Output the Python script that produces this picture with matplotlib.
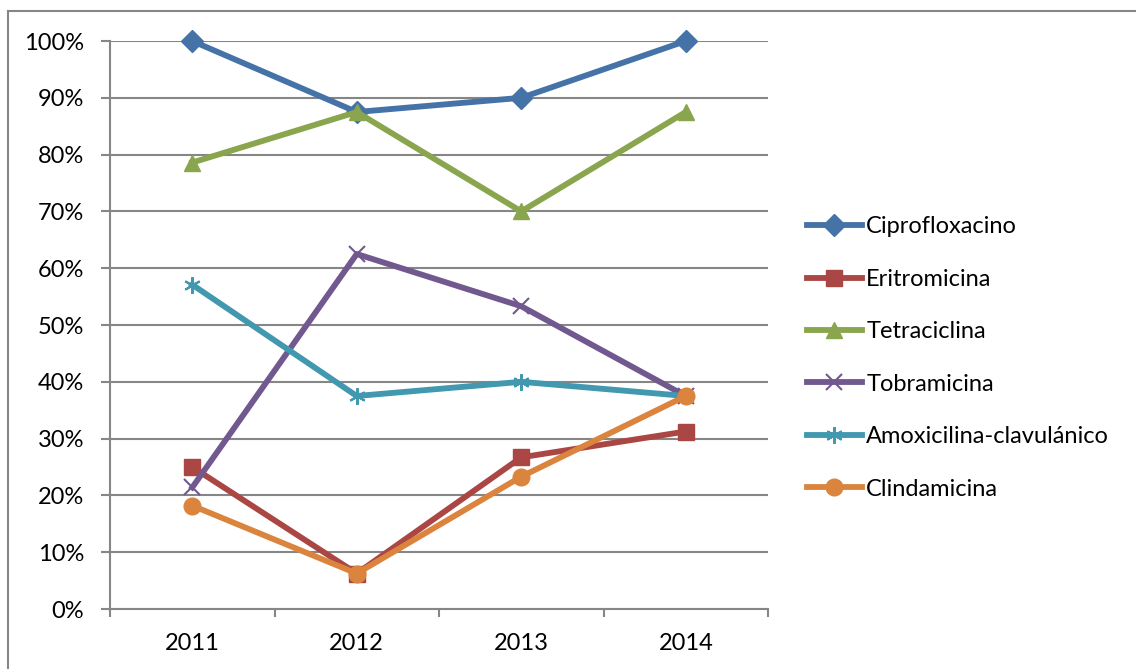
import matplotlib.pyplot as plt
from matplotlib.lines import Line2D
from matplotlib.ticker import FuncFormatter

plt.rcParams['font.family'] = ['Lato', 'DejaVu Sans']

# Porcentaje de resistencia por año
years = ['2011', '2012', '2013', '2014']
cipro = [100, 87.5, 90, 100]
eritro = [25, 6.25, 26.7, 31.25]
tetra = [78.6, 87.5, 70, 87.5]
tobra = [21.4, 62.5, 53.3, 37.5]
amoxi = [57.1, 37.5, 40, 37.5]
clinda = [18.2, 6.25, 23.3, 37.5]

series = [
    ('Ciprofloxacino', cipro, '#4572A7', 'D', 11),
    ('Eritromicina', eritro, '#AA4643', 's', 11),
    ('Tetraciclina', tetra, '#89A54E', '^', 12),
    ('Tobramicina', tobra, '#71588F', 'x', 12),
    ('Amoxicilina-clavulánico', amoxi, '#4198AF', '*', 12),
    ('Clindamicina', clinda, '#DB843D', 'o', 12),
]


def style(col, mk, ms):
    # estilo de línea y marcador de cada serie
    if mk == '*':
        return dict(color=col, lw=4.2, marker=(6, 2, 0), ms=ms, mec=col, mew=1.5)
    if mk == 'x':
        return dict(color=col, lw=4.2, marker='x', ms=ms, mec=col, mew=1.5)
    return dict(color=col, lw=4.2, marker=mk, ms=ms, mfc=col, mec=col)


fig = plt.figure(figsize=(11.36, 6.69), dpi=100)
ax = fig.add_axes([110/1136, 60/669, 658/1136, 568/669])

x = range(len(years))
for name, vals, col, mk, ms in series:
    ax.plot(x, vals, label=name, zorder=3, clip_on=False, **style(col, mk, ms))

ax.set_xlim(-0.5, 3.5)
ax.set_ylim(0, 100)
ax.set_yticks(range(0, 101, 10))
ax.yaxis.set_major_formatter(FuncFormatter(lambda v, p: f'{int(v)}%'))
ax.set_xticks([i - 0.5 for i in range(5)])
ax.set_xticklabels([])
ax.set_xticks(list(x), minor=True)
ax.set_xticklabels(years, minor=True)
ax.tick_params(axis='x', which='major', length=6, color='#868686', width=1.5)
ax.tick_params(axis='x', which='minor', length=0, pad=17, labelsize=17)
ax.tick_params(axis='y', length=6.5, color='#868686', width=1.5, labelsize=17, pad=12)
ax.grid(axis='y', color='#868686', lw=1.5)
ax.set_axisbelow(True)
for s in ['top', 'right']:
    ax.spines[s].set_visible(False)
for s in ['left', 'bottom']:
    ax.spines[s].set_color('#868686')
    ax.spines[s].set_linewidth(1.5)

handles = [Line2D([], [], **style(col, mk, ms)) for name, vals, col, mk, ms in series]
fig.legend(handles, [s[0] for s in series], loc='center left',
           bbox_to_anchor=(786/1136, 1 - 358/669), frameon=False, fontsize=17,
           handlelength=2.3, labelspacing=1.33, handletextpad=0.2)

# marco exterior del gráfico
fig.add_artist(Line2D([8/1136, 8/1136], [0, 1 - 11/669], color='#868686', lw=1.5))
fig.add_artist(Line2D([8/1136, 1], [1 - 11/669, 1 - 11/669], color='#868686', lw=1.5))

fig.savefig('out.png', dpi=100)
